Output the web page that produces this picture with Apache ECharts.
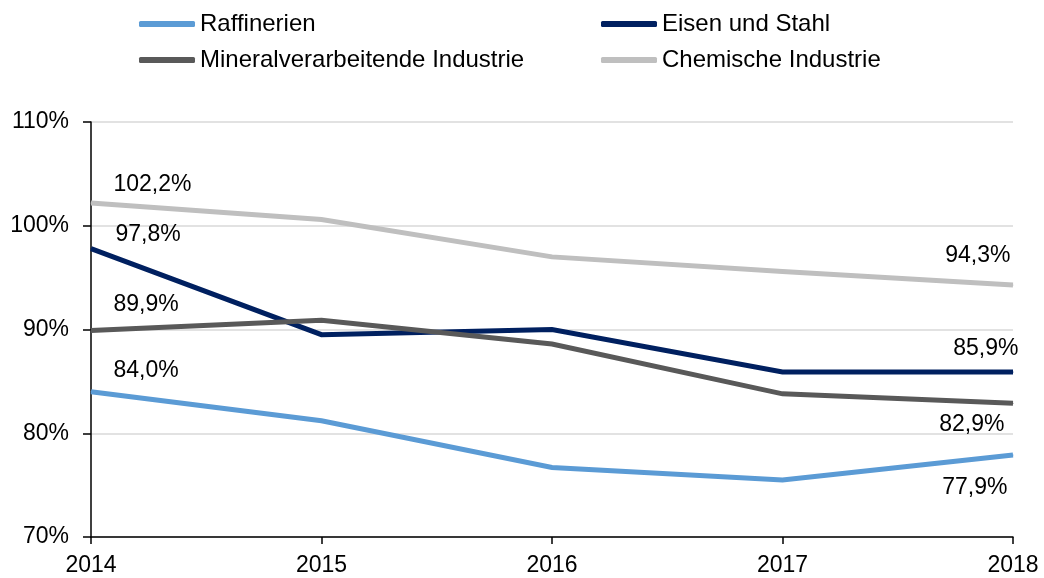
<!DOCTYPE html>
<html><head><meta charset="utf-8">
<script src="https://cdn.jsdelivr.net/npm/echarts@6/dist/echarts.min.js"></script>
<style>html,body{margin:0;padding:0;background:#fff}#c{width:1044px;height:578px}</style>
</head><body><div id="c"></div>
<script>
// ---- data ----
const categories = ['2014', '2015', '2016', '2017', '2018'];
const raffinerien = [84.0, 81.2, 76.7, 75.5, 77.9];
const eisenStahl = [97.8, 89.5, 90.0, 85.9, 85.9];
const mineral = [89.9, 90.9, 88.6, 83.8, 82.9];
const chemie = [102.2, 100.6, 97.0, 95.6, 94.3];
const seriesNames = ['Raffinerien', 'Eisen und Stahl', 'Mineralverarbeitende Industrie', 'Chemische Industrie'];
const yMin = 70, yMax = 110, yStep = 10;

// ---- styling ----
const FONT = '"Liberation Sans", Arial, sans-serif';
const colors = ['#5B9BD5', '#002060', '#595959', '#BFBFBF'];
// label placement for first/last point of each series: [dx, dy, align]
const labelPlace = [
  { first: [23, -21, 'left'], last: [-5, 33, 'right'] },
  { first: [25, -13, 'left'], last: [6, -23, 'right'] },
  { first: [23, -25, 'left'], last: [-8, 22, 'right'] },
  { first: [23, -18, 'left'], last: [-2, -29, 'right'] }
];
const legendPos = [
  { left: 139, top: 12 }, { left: 601, top: 12 },
  { left: 139, top: 48 }, { left: 601, top: 48 }
];

const fmt = v => v.toFixed(1).replace('.', ',') + '%';
const allValues = [raffinerien, eisenStahl, mineral, chemie];

function buildData(values, place) {
  return values.map((v, i) => {
    let p = null;
    if (i === 0) p = place.first;
    else if (i === values.length - 1) p = place.last;
    if (!p) return v;
    return {
      value: v,
      label: {
        show: true, position: [p[0], p[1]], align: p[2], verticalAlign: 'middle',
        formatter: d => fmt(d.value), color: '#000', fontSize: 23, fontFamily: FONT
      }
    };
  });
}

const series = seriesNames.map((name, k) => ({
  name, type: 'line',
  data: buildData(allValues[k], labelPlace[k]),
  symbol: 'circle', symbolSize: 1, showSymbol: true,
  lineStyle: { color: colors[k], width: 5, cap: 'butt', join: 'miter' },
  itemStyle: { color: colors[k] },
  label: { show: false },
  emphasis: { disabled: true },
  animation: false
}));

const legends = seriesNames.map((name, k) => ({
  data: [name], left: legendPos[k].left, top: legendPos[k].top, padding: 0,
  icon: 'roundRect', itemWidth: 56, itemHeight: 6,
  textStyle: { color: '#000', fontSize: 24, fontFamily: FONT },
  selectedMode: false
}));

const chart = echarts.init(document.getElementById('c'), null, { renderer: 'canvas' });
chart.setOption({
  backgroundColor: '#fff',
  animation: false,
  color: colors,
  legend: legends,
  grid: { left: 91, right: 31, top: 122, bottom: 41, containLabel: false },
  xAxis: {
    type: 'category', data: categories, boundaryGap: false,
    axisLine: { show: true, lineStyle: { color: '#000', width: 1.5 } },
    axisTick: { show: true, length: 7, lineStyle: { color: '#000', width: 1.5 } },
    axisLabel: { color: '#000', fontSize: 23, fontFamily: FONT, margin: 17 },
    splitLine: { show: false }
  },
  yAxis: {
    type: 'value', min: yMin, max: yMax, interval: yStep,
    axisLine: { show: true, lineStyle: { color: '#000', width: 1.5 } },
    axisTick: { show: true, length: 8, lineStyle: { color: '#000', width: 1.5 } },
    axisLabel: { color: '#000', fontSize: 23, fontFamily: FONT, margin: 22, formatter: v => v + '%' },
    splitLine: { show: true, lineStyle: { color: '#D9D9D9', width: 1.5 } }
  },
  series
});
</script></body></html>
